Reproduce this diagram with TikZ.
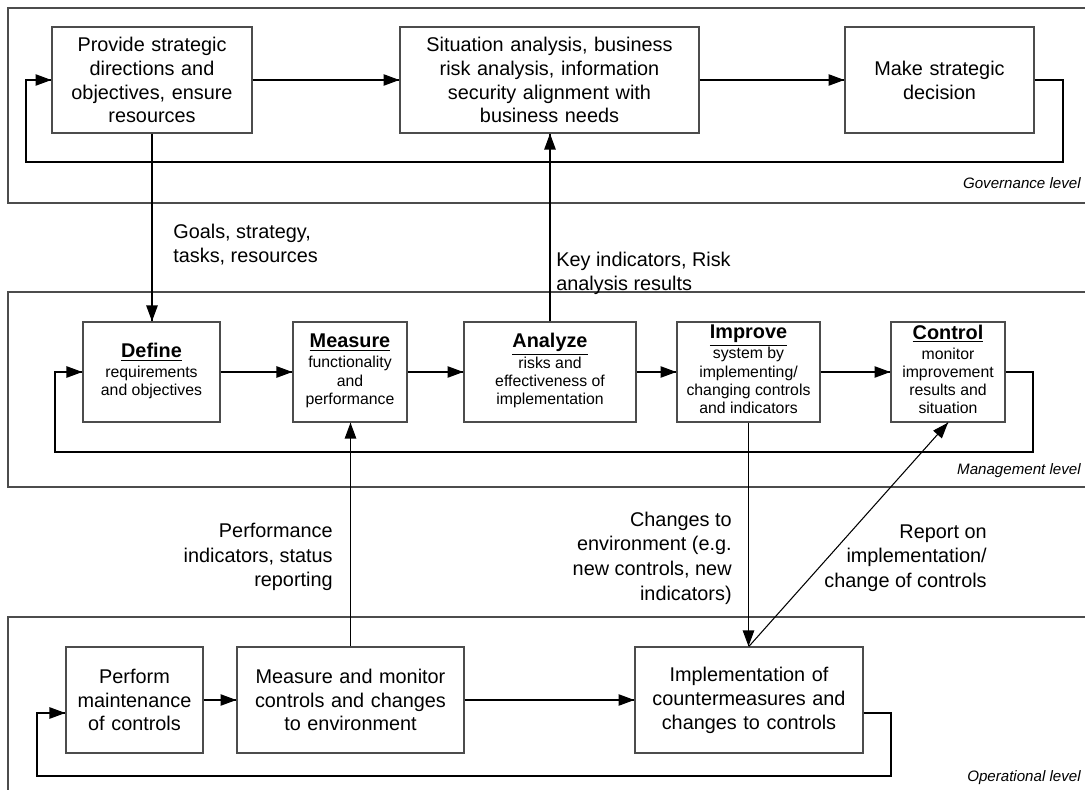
\documentclass[tikz,border=0pt]{standalone}
\usepackage{fontspec}
\setmainfont{Liberation Sans}
\usetikzlibrary{calc,arrows.meta,
                 decorations.markings}
\definecolor{boxgray}{gray}{0.3}
\tikzset{flow/.style = {line width=0.6pt, decoration={markings, mark=at position 1 with {\arrow{Triangle[length=9pt,width=6.5pt]}}}, postaction={decorate}}}
\tikzset{box/.style = {draw=boxgray, line width=0.8pt, inner sep=0pt, align=center, font=\fontsize{11.3}{13.6}\selectfont}}
\tikzset{stage/.style = {box, minimum height=2cm, font=\fontsize{9}{10.4}\selectfont}}
\tikzset{band/.style = {draw=boxgray, line width=0.9pt}}
\tikzset{note/.style = {inner sep=0pt, font=\fontsize{11.3}{14}\selectfont}}
\tikzset{level/.style = {anchor=east, inner sep=0pt, font=\fontsize{8.6}{10}\selectfont\itshape}}
\newcommand{\stagetext}[2]{\begin{tabular}{@{}c@{}}\fontsize{11.3}{13.6}\selectfont\bfseries\underline{#1}\\[1pt]#2\end{tabular}}

\begin{document}
\begin{tikzpicture}[x=0.02cm, y=-0.02cm]
\useasboundingbox (0,0) rectangle (1085,790);
\clip (0,0) rectangle (1085,790);
\draw [band] (8,8) rectangle (1100,203);
\draw [band] (8,292) rectangle (1100,487);
\draw [band] (8,617) rectangle (1100,800);

\node [box, text width=4cm, minimum height=2.12cm] (provide) at (152,80) {Provide strategic\\directions and\\objectives, ensure\\resources};
\node [box, text width=5.98cm, minimum height=2.12cm] (situation) at (549.5,80) {Situation analysis, business\\risk analysis, information\\security alignment with\\business needs};
\node [box, text width=3.78cm, minimum height=2.12cm] (decide) at (939.5,80) {Make strategic\\decision};

\node [stage, minimum width=2.74cm] (define) at (151.5,372) {\stagetext{Define}{requirements\\and objectives}};
\node [stage, minimum width=2.28cm] (measure) at (350,372) {\stagetext{Measure}{functionality\\and\\performance}};
\node [stage, minimum width=3.44cm] (analyze) at (550,372) {\stagetext{Analyze}{risks and\\effectiveness of\\implementation}};
\node [stage, minimum width=2.86cm] (improve) at (748.5,372) {\stagetext{Improve}{system by\\implementing/\\changing controls\\and indicators}};
\node [stage, minimum width=2.28cm] (control) at (948,372) {\stagetext{Control}{monitor\\improvement\\results and\\situation}};

\node [box, text width=2.74cm, minimum height=2.12cm] (perform) at (134.5,700) {Perform\\maintenance\\of controls};
\node [box, text width=4.54cm, minimum height=2.12cm] (monitor) at (350.5,700) {Measure and monitor\\controls and changes\\to environment};
\node [box, text width=4.56cm, minimum height=2.12cm] (implement) at (749,700) {Implementation of\\countermeasures and\\changes to controls};

\node [note, anchor=west, align=left] (goals) at (173,244.5) {Goals, strategy,\\tasks, resources};
\node [note, anchor=west, align=left] (keyind) at (556,273.5) {Key indicators, Risk\\analysis results};
\node [note, anchor=east, align=right] (perfind) at (333,557) {Performance\\indicators, status\\reporting};
\node [note, anchor=east, align=right] (envchange) at (732,558) {Changes to\\environment (e.g.\\new controls, new\\indicators)};
\node [note, anchor=east, align=right] (report) at (987,558) {Report on\\implementation/\\change of controls};

\node [level] (govlevel) at (1081,183) {Governance level};
\node [level] (mgmtlevel) at (1081,471) {Management level};
\node [level] (oplevel) at (1081,778) {Operational level};

\coordinate (govR) at (1063,162);
\coordinate (govL) at (26,162);
\coordinate (mgmtR) at (1033,452);
\coordinate (mgmtL) at (55,452);
\coordinate (opR) at (891,776);
\coordinate (opL) at (37,776);

\draw [flow] (provide) -- (situation);
\draw [flow] (situation) -- (decide);
\draw [flow] (decide.east) -| (govR) -- (govL) |- (provide.west);
\draw [flow] (provide.south) -- (provide.south |- define.north);
\draw [flow] (analyze.north) -- (analyze.north |- situation.south);

\draw [flow] (define) -- (measure);
\draw [flow] (measure) -- (analyze);
\draw [flow] (analyze) -- (improve);
\draw [flow] (improve) -- (control);
\draw [flow] (control.east) -| (mgmtR) -- (mgmtL) |- (define.west);
\draw [flow] (monitor.north) -- (monitor.north |- measure.south);
\draw [flow] (improve.south) -- (improve.south |- implement.north);
\draw [flow] (implement.north) -- (control.south);

\draw [flow] (perform) -- (monitor);
\draw [flow] (monitor) -- (implement);
\draw [flow] ([yshift=-7.4pt]implement.east) -| (opR) -- (opL) |- ([yshift=-7.4pt]perform.west);
\end{tikzpicture}
\end{document}
